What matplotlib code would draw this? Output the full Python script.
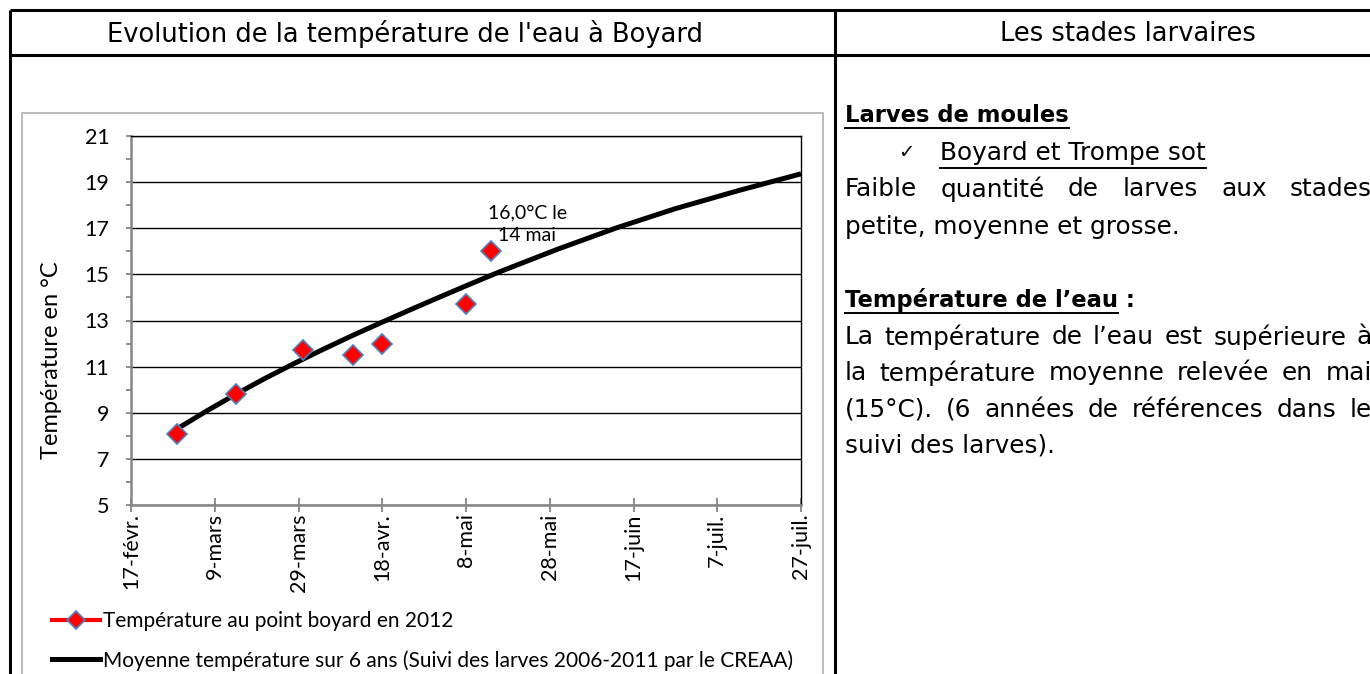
import matplotlib
matplotlib.use("Agg")
import matplotlib.pyplot as plt
from matplotlib.lines import Line2D
from matplotlib.patches import Rectangle

W, H, DPI = 1370, 674, 100

# x axis: days counted from 17 February, labelled every 20 days
x_ticks = [0, 20, 40, 60, 80, 100, 120, 140, 160]
x_tick_labels = ["17-févr.", "9-mars", "29-mars", "18-avr.", "8-mai",
                 "28-mai", "17-juin", "7-juil.", "27-juil."]

# 2012 readings at the Boyard point
releve_jours = [11, 25, 41, 53, 60, 80, 86]
releve_temp = [8.1, 9.8, 11.7, 11.5, 12.0, 13.7, 16.0]

# Six-year mean temperature (larvae monitoring 2006-2011)
moyenne_jours = [11, 18, 25, 32, 39, 46, 53, 60, 67, 74, 81, 88,
                 102, 116, 130, 145, 160]
moyenne_temp = [8.3, 9.07, 9.8, 10.49, 11.14, 11.76, 12.36, 12.93, 13.49,
                14.04, 14.58, 15.11, 16.1, 17.02, 17.85, 18.63, 19.36]

CHART_FONT = "Lato"
TEXT_FONT = "DejaVu Sans"


def fx(px):
    return px / W


def fy(py):
    return 1 - py / H


fig = plt.figure(figsize=(W / DPI, H / DPI), dpi=DPI)
fig.patch.set_facecolor("white")


# ---- table frame -------------------------------------------------------
def fig_line(xs, ys, **kw):
    fig.add_artist(Line2D([fx(x) for x in xs], [fy(y) for y in ys],
                          transform=fig.transFigure, **kw))


table_kw = dict(color="black", lw=2.2, solid_capstyle="butt")
fig_line([10, W + 5], [10, 10], **table_kw)
fig_line([10, W + 5], [55, 55], **table_kw)
fig_line([10, 10], [10, H + 5], **table_kw)
fig_line([835, 835], [10, H + 5], **table_kw)

fig.text(fx(405), fy(34), "Evolution de la température de l'eau à Boyard",
         ha="center", va="center", fontsize=18.5, family=TEXT_FONT)
fig.text(fx(1256), fy(34), "Les stades larvaires",
         ha="right", va="center", fontsize=18.5, family=TEXT_FONT)

# ---- chart area frame --------------------------------------------------
fig.add_artist(Rectangle((fx(22), fy(H + 20)), (823 - 22) / W, (H + 20 - 113) / H,
                         transform=fig.transFigure, fill=False,
                         edgecolor="#b0b0b0", lw=1.2))

# ---- plot --------------------------------------------------------------
ax = fig.add_axes([fx(131), fy(505), (801 - 131) / W, (505 - 136) / H])
ax.set_xlim(0, 160)
ax.set_ylim(5, 21)

ax.set_yticks(range(5, 22, 2))
ax.set_yticks(range(6, 21, 2), minor=True)
ax.set_xticks(x_ticks)
ax.set_xticklabels(x_tick_labels, rotation=90, family=CHART_FONT, fontsize=15.5)
for lab in ax.get_yticklabels():
    lab.set_family(CHART_FONT)
    lab.set_fontsize(15.5)

ax.yaxis.grid(True, which="major", color="black", lw=1.0)
ax.set_axisbelow(True)

grey = "#868686"
for side in ("left", "bottom"):
    ax.spines[side].set_color(grey)
    ax.spines[side].set_linewidth(1.8)
for side in ("top", "right"):
    ax.spines[side].set_color("black")
    ax.spines[side].set_linewidth(1.0)

ax.tick_params(axis="y", which="both", direction="out", length=3.6, width=1.3,
               color=grey, pad=12, labelcolor="black")
ax.tick_params(axis="x", which="major", direction="inout", length=10, width=1.3,
               color=grey, pad=1, labelcolor="black")

ax.plot(moyenne_jours, moyenne_temp, color="black", lw=3.6,
        solid_capstyle="butt", solid_joinstyle="round", zorder=3)
ax.plot(releve_jours, releve_temp, linestyle="none", marker="D", ms=10,
        mfc="#ff0000", mec="#4f81bd", mew=1.2, zorder=4)

label = f"{releve_temp[-1]:.1f}".replace(".", ",") + "°C le\n14 mai"
ax.annotate(label, xy=(releve_jours[-1], releve_temp[-1]), xytext=(26, 19.5),
            textcoords="offset points", ha="center", va="center",
            fontsize=14, family=CHART_FONT, linespacing=1.4)

fig.text(fx(52), fy(360), "Température en °C", rotation=90, ha="center",
         va="center", fontsize=17, family=CHART_FONT)

handles = [
    Line2D([], [], color="#ff0000", lw=3, marker="D", ms=9.5,
           mfc="#ff0000", mec="#4f81bd", mew=1.2),
    Line2D([], [], color="black", lw=3.6),
]
labels = ["Température au point boyard en 2012",
          "Moyenne température sur 6 ans (Suivi des larves 2006-2011 par le CREAA)"]
fig.legend(handles, labels, loc="upper left",
           bbox_to_anchor=(fx(52), fy(611)), bbox_transform=fig.transFigure,
           frameon=False, borderpad=0, borderaxespad=0, handlelength=2.3,
           handletextpad=0.15, labelspacing=0.92,
           prop={"family": CHART_FONT, "size": 15})

# ---- right-hand text ---------------------------------------------------
renderer = fig.canvas.get_renderer()
X0 = 845
X1 = 1372
body = dict(fontsize=17.8, family=TEXT_FONT, va="center")
bold = dict(fontsize=16.3, weight="bold")


def put(x, y, s, **kw):
    opts = dict(body)
    opts.update(kw)
    return fig.text(fx(x), fy(y), s, **opts)


def width_px(t):
    return t.get_window_extent(renderer).width


def underline(t, y):
    bb = t.get_window_extent(renderer)
    fig_line([bb.x0, bb.x1], [y, y], color="black", lw=1.4)


def justify(words, y):
    texts = [put(0, y, w) for w in words]
    widths = [width_px(t) for t in texts]
    gap = (X1 - X0 - sum(widths)) / (len(words) - 1)
    x = X0
    for t, w in zip(texts, widths):
        t.set_x(fx(x))
        x += w + gap


t = put(X0, 115, "Larves de moules", **bold)
underline(t, 128)
put(898, 153, "\u2713", fontsize=14)
t = put(940, 153, "Boyard et Trompe sot")
underline(t, 168)
justify("Faible quantité de larves aux stades".split(), 189)
put(X0, 227, "petite, moyenne et grosse.")
t = put(X0, 300, "Température de l’eau", **bold)
underline(t, 313)
put(X0 + width_px(t), 300, " :", **bold)
justify("La température de l’eau est supérieure à".split(), 337)
justify("la température moyenne relevée en mai".split(), 373)
justify("(15°C). (6 années de références dans le".split(), 410)
put(X0, 446, "suivi des larves).")

fig.savefig("out.png", dpi=DPI, facecolor="white")
